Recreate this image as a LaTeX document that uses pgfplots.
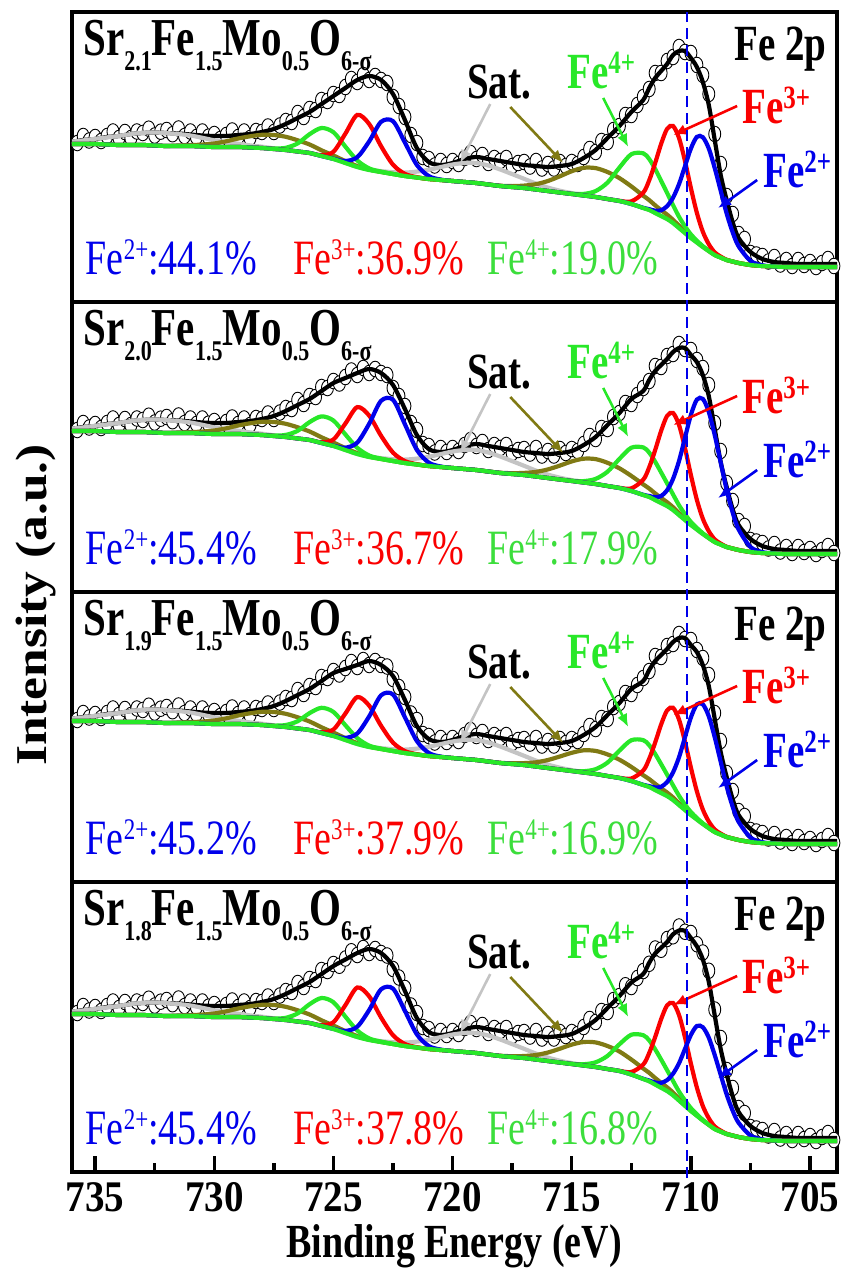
\documentclass[border=0pt]{standalone}
\usepackage{pgfplots}
\pgfplotsset{compat=1.18}
\usepackage{pgfplotstable}
\usetikzlibrary{arrows.meta}
\usepackage{fontspec}
\setmainfont{Liberation Serif}
\usepackage{graphicx}

\definecolor{cblue}{RGB}{0,0,235}
\definecolor{cred}{RGB}{250,0,0}
\definecolor{cgreen}{RGB}{40,232,40}
\definecolor{colive}{RGB}{128,122,20}
\definecolor{cgray}{RGB}{196,196,196}
\definecolor{tgreen}{RGB}{60,222,60}

\newcommand\vs[1]{\scalebox{1}[1.3]{#1}}
\newcommand\bigbf{\rmfamily\fontsize{39}{40}\selectfont\bfseries}
\newcommand\ttbf{\rmfamily\fontsize{41}{42}\selectfont\bfseries}
\newcommand\bigrm{\rmfamily\fontsize{38}{40}\selectfont}
\newcommand\sub[1]{\raisebox{-12pt}{\fontsize{22}{22}\selectfont\bfseries #1}}
\newcommand\sups[1]{\raisebox{11pt}{\fontsize{25}{25}\selectfont\bfseries #1}}
\newcommand\psup[1]{\raisebox{11pt}{\fontsize{23}{23}\selectfont #1}}

% columns: x, background, Fe2+, Fe3+, Fe4+, olive sat., grey sat., envelope
\pgfplotstableread{
x bg f2 f3 f4 ol gr env
736 156 156 156 156 156 158.3 158
735.5 156 156 156 156 156 159.6 160
735 156 156 156 156 156 161.2 161
734.5 155.5 155.5 155.5 155.5 155.5 162.6 163
734 155 155 155 155 155 164.1 164
733.5 155 155 155 155 155 165.9 166
733 155 155 155 155 155 167.2 167
732.5 154.5 154.5 154.5 154.5 154.5 167.5 167.5
732 154 154 154 154 154 166.9 167
731.5 154 154 154 154 154.5 166 166.5
731 154 154 154 154 154.9 164.5 165.5
730.5 153.5 153.5 153.5 153.5 155.4 162.2 164.5
730 153 153 153 153 156.5 159.7 164
729.5 153 153 153 153 158.7 157.9 164
729 153 153 153 153 161.5 156.3 165
728.5 152.5 152.5 152.5 152.5 163.7 154.6 166
728 152 152 152 152 165.2 153.3 168
727.5 151 151 151 151.4 165 151.7 171
727 150 150 150 152.2 163.2 150.4 176
726.5 148.5 148.5 148.5 156.6 159.7 148.5 182
726 147 147 147 165.8 155.5 147 188
725.5 144 144 144.8 172 149.7 144 196
725 141 141.2 148.2 167.8 144.5 141 204
724.5 137 139 166.3 153.4 138.9 137 212
724 133 142.8 185.1 139.5 133.9 133 220
723.5 130 158.6 176 131.6 130.4 130.4 224
723 128 178.2 153.8 128.3 128 128.9 220
722.5 126 178.8 135.3 126 126 127.8 206
722 124 157.4 126.1 124 124 127.4 180
721.5 122.5 135.1 122.8 122.5 122.5 128.4 152
721 121 123.9 121 121 121 130.2 138
720.5 120 120.4 120 120 120 132.9 135
720 119 119 119 119 119 135.5 137
719.5 118 118 118 118 118 137 141
719 117 117 117 117 117 137 143
718.5 115.5 115.5 115.5 115.5 115.5 134.5 141
718 114 114 114 114 114.3 130.5 139
717.5 113 113 113 113 113.9 125.9 137
717 112 112 112 112 114.4 121.2 135
716.5 110.5 110.5 110.5 110.5 115.8 116.4 134
716 109 109 109 109 119 112.4 133
715.5 107.5 107.5 107.5 107.5 123.7 109.3 134
715 106 106 106 106.3 128.8 106.9 136
714.5 104.5 104.5 104.5 106.1 132.2 104.9 142
714 103 103 103 108.9 131.9 103 150
713.5 101 101 101 117.4 128 101 162
713 99 99 99.2 132.4 121.9 99 174
712.5 96 96 98.6 145.8 113.6 96 188
712 92 92.2 107.3 146.7 104.3 92 200
711.75 90 90.8 119.7 141 99.9 90 212
711.5 87 89.3 136.9 131 94.7 87 222
711.25 84 89.7 156.1 119.2 89.9 84 229
711 81 93.8 171.1 107.1 85.4 81 236
710.75 77 102.3 174 94.9 80.2 77 245
710.5 72 115.8 162.1 83.3 74.3 72 249
710.25 67 133.7 139.1 73.7 68.6 67 249
710 62 151.5 111.9 65.6 63.1 62 242
709.75 57.5 163.1 87.2 59.3 58.2 57.5 233
709.5 53 162.8 68.3 53.8 53.5 53 218
709.25 49 151.5 55.8 49.4 49 49 195
709 45 131.9 47.6 45 45 45 160
708.75 42.5 109.2 43.4 42.5 42.5 42.5 125
708.5 40 86.5 40.2 40 40 40 100
708.25 38.5 67.9 38.5 38.5 38.5 38.5 78
708 37 53.8 37 37 37 37 62
707.5 35 39.1 35 35 35 35 48
707 34 34.7 34 34 34 34 41
706.5 33.5 33.5 33.5 33.5 33.5 33.5 38
706 33 33 33 33 33 33 37
705.5 33 33 33 33 33 33 36
705 33 33 33 33 33 33 36
704.5 33 33 33 33 33 33 36
704 33 33 33 33 33 33 36
703.5 33 33 33 33 33 33 36
}\tA

\pgfplotstableread{
x bg f2 f3 f4 ol gr env
736 159 159 159 159 159 161.3 161
735.5 159 159 159 159 159 162.6 163
735 159 159 159 159 159 164.2 164
734.5 158.5 158.5 158.5 158.5 158.5 165.6 166
734 158 158 158 158 158 167.1 167
733.5 158 158 158 158 158 168.9 169
733 158 158 158 158 158 170.2 170
732.5 157.5 157.5 157.5 157.5 157.5 170.5 170.5
732 157 157 157 157 157 169.9 170
731.5 157 157 157 157 157.5 169 169.5
731 157 157 157 157 157.9 167.5 168.5
730.5 156.5 156.5 156.5 156.5 158.4 165.2 167.5
730 156 156 156 156 159.5 162.7 167
729.5 156 156 156 156 161.7 160.9 167
729 156 156 156 156 164.5 159.3 168
728.5 155.5 155.5 155.5 155.5 166.7 157.6 169
728 155 155 155 155 168.2 156.3 171
727.5 154 154 154 154.4 168 154.7 174
727 153 153 153 155.1 166.2 153.4 179
726.5 151.5 151.5 151.5 159.2 162.7 151.5 185
726 150 150 150 167.9 158.5 150 191
725.5 147 147 147.7 173.6 152.7 147 199
725 144 144.2 150.5 169.5 147.5 144 207
724.5 140 142.3 166.4 155.6 141.9 140 212
724 136 147.4 182.9 142.2 136.9 136 217
723.5 133 166.2 174.4 134.5 133.4 133.4 221
723 131 189.2 154.2 131.3 131 131.9 217
722.5 129 190.2 137.4 129 129 130.8 205
722 127 165.7 128.9 127 127 130.4 181
721.5 125.5 140.1 125.8 125.5 125.5 131.4 155
721 124 127.4 124 124 124 133.2 141
720.5 123 123.5 123 123 123 135.9 138
720 122 122 122 122 122 138.5 140
719.5 121 121 121 121 121 140 144
719 120 120 120 120 120 140 146
718.5 118.5 118.5 118.5 118.5 118.5 137.5 144
718 117 117 117 117 117.3 133.5 142
717.5 116 116 116 116 116.8 128.9 140
717 115 115 115 115 117.1 124.2 138
716.5 113.5 113.5 113.5 113.5 118.1 119.4 137
716 112 112 112 112 120.6 115.4 136
715.5 110.5 110.5 110.5 110.5 124.4 112.3 137
715 109 109 109 109.3 128.6 109.9 139
714.5 107.5 107.5 107.5 108.9 131.3 107.9 145
714 106 106 106 111.1 130.9 106 153
713.5 104 104 104 118.3 127.2 104 165
713 102 102 102.2 131.1 121.7 102 177
712.5 99 99 101.6 142.3 114.1 99 191
712 95 95.2 110.3 142.6 105.6 95 199
711.75 93 94 122.7 137.4 101.5 93 210
711.5 90 92.8 139.9 128.3 96.6 90 219
711.25 87 94 159.1 117.6 92.1 87 225
711 84 99.7 174.1 106.7 87.8 84 231
710.75 80 111.1 177 95.6 82.8 80 238
710.5 75 128.9 165.1 84.8 77 75 242
710.25 70 152 142.1 75.8 71.4 70 242
710 65 175.1 114.9 68.1 65.9 65 235
709.75 60.5 190.4 90.2 62.1 61.1 60.5 228
709.5 56 191.1 71.3 56.7 56.4 56 215
709.25 52 178.1 58.8 52.3 52 52 194
709 48 154.9 50.6 48 48 48 161
708.75 45.5 127.5 46.4 45.5 45.5 45.5 128
708.5 43 100.2 43.2 43 43 43 103
708.25 41.5 77.7 41.5 41.5 41.5 41.5 81
708 40 60.7 40 40 40 40 65
707.5 38 43 38 38 38 38 51
707 37 37.9 37 37 37 37 44
706.5 36.5 36.5 36.5 36.5 36.5 36.5 41
706 36 36 36 36 36 36 40
705.5 36 36 36 36 36 36 39
705 36 36 36 36 36 36 39
704.5 36 36 36 36 36 36 39
704 36 36 36 36 36 36 39
703.5 36 36 36 36 36 36 39
}\tB

\pgfplotstableread{
x bg f2 f3 f4 ol gr env
736 159 159 159 159 159 161.3 161
735.5 159 159 159 159 159 162.6 163
735 159 159 159 159 159 164.2 164
734.5 158.5 158.5 158.5 158.5 158.5 165.6 166
734 158 158 158 158 158 167.1 167
733.5 158 158 158 158 158 168.9 169
733 158 158 158 158 158 170.2 170
732.5 157.5 157.5 157.5 157.5 157.5 170.5 170.5
732 157 157 157 157 157 169.9 170
731.5 157 157 157 157 157.5 169 169.5
731 157 157 157 157 157.9 167.5 168.5
730.5 156.5 156.5 156.5 156.5 158.4 165.2 167.5
730 156 156 156 156 159.5 162.7 167
729.5 156 156 156 156 161.7 160.9 167
729 156 156 156 156 164.5 159.3 168
728.5 155.5 155.5 155.5 155.5 166.7 157.6 169
728 155 155 155 155 168.2 156.3 171
727.5 154 154 154 154.4 168 154.7 174
727 153 153 153 155 166.2 153.4 179
726.5 151.5 151.5 151.5 158.8 162.7 151.5 185
726 150 150 150 166.9 158.5 150 191
725.5 147 147 147.7 172.2 152.7 147 199
725 144 144.2 150.5 168.1 147.5 144 207
724.5 140 142.1 166.4 154.8 141.9 140 211
724 136 146.5 182.9 141.9 136.9 136 215
723.5 133 163.6 174.4 134.4 133.4 133.4 219
723 131 184.7 154.2 131.3 131 131.9 215
722.5 129 185.5 137.4 129 129 130.8 204
722 127 162.7 128.9 127 127 130.4 180
721.5 125.5 139 125.8 125.5 125.5 131.4 154
721 124 127.1 124 124 124 133.2 141
720.5 123 123.4 123 123 123 135.9 138
720 122 122 122 122 122 138.5 140
719.5 121 121 121 121 121 140 144
719 120 120 120 120 120 140 146
718.5 118.5 118.5 118.5 118.5 118.5 137.5 144
718 117 117 117 117 117.2 133.5 142
717.5 116 116 116 116 116.7 128.9 140
717 115 115 115 115 116.9 124.2 138
716.5 113.5 113.5 113.5 113.5 117.7 119.4 137
716 112 112 112 112 120 115.4 136
715.5 110.5 110.5 110.5 110.5 123.5 112.3 137
715 109 109 109 109.2 127.2 109.9 139
714.5 107.5 107.5 107.5 108.8 129.7 107.9 145
714 106 106 106 110.8 129.1 106 153
713.5 104 104 104 117.4 125.6 104 165
713 102 102 102.2 129.4 120.3 102 177
712.5 99 99 101.5 139.8 113.1 99 191
712 95 95.2 109.5 139.9 104.8 95 199
711.75 93 93.9 121.2 134.8 100.9 93 210
711.5 90 92.5 137.4 126.1 96.2 90 219
711.25 87 93.2 155.5 115.9 91.7 87 225
711 84 98 169.6 105.4 87.5 84 231
710.75 80 107.6 172.2 94.7 82.6 80 238
710.5 75 122.7 160.6 84.3 76.8 75 242
710.25 70 142.7 138.5 75.5 71.3 70 242
710 65 162.6 112.4 68 65.9 65 235
709.75 60.5 175.6 88.7 62 61.1 60.5 228
709.5 56 175.7 70.5 56.7 56.4 56 215
709.25 52 163.7 58.5 52.3 52 52 194
709 48 142.7 50.5 48 48 48 161
708.75 45.5 118.2 46.4 45.5 45.5 45.5 128
708.5 43 93.7 43.2 43 43 43 103
708.25 41.5 73.5 41.5 41.5 41.5 41.5 81
708 40 58.3 40 40 40 40 65
707.5 38 42.5 38 38 38 38 51
707 37 37.8 37 37 37 37 44
706.5 36.5 36.5 36.5 36.5 36.5 36.5 41
706 36 36 36 36 36 36 40
705.5 36 36 36 36 36 36 39
705 36 36 36 36 36 36 39
704.5 36 36 36 36 36 36 39
704 36 36 36 36 36 36 39
703.5 36 36 36 36 36 36 39
}\tC

\pgfplotstableread{
x bg f2 f3 f4 ol gr env
736 156 156 156 156 156 158.3 158
735.5 156 156 156 156 156 159.6 160
735 156 156 156 156 156 161.2 161
734.5 155.5 155.5 155.5 155.5 155.5 162.6 163
734 155 155 155 155 155 164.1 164
733.5 155 155 155 155 155 165.9 166
733 155 155 155 155 155 167.2 167
732.5 154.5 154.5 154.5 154.5 154.5 167.5 167.5
732 154 154 154 154 154 166.9 167
731.5 154 154 154 154 154.5 166 166.5
731 154 154 154 154 154.9 164.5 165.5
730.5 153.5 153.5 153.5 153.5 155.4 162.2 164.5
730 153 153 153 153 156.5 159.7 164
729.5 153 153 153 153 158.7 157.9 164
729 153 153 153 153 161.5 156.3 165
728.5 152.5 152.5 152.5 152.5 163.7 154.6 166
728 152 152 152 152 165.2 153.3 168
727.5 151 151 151 151.4 165 151.7 171
727 150 150 150 152.2 163.2 150.4 176
726.5 148.5 148.5 148.5 156.6 159.7 148.5 182
726 147 147 147 165.8 155.5 147 188
725.5 144 144 144.8 172 149.7 144 196
725 141 141.2 147.8 167.8 144.5 141 204
724.5 137 139.1 164.8 153.4 138.9 137 210.5
724 133 143.3 182.5 139.5 133.9 133 217
723.5 130 160 173.7 131.6 130.4 130.4 221
723 128 180.7 152.5 128.3 128 128.9 217
722.5 126 181.4 134.8 126 126 127.8 204
722 124 159.1 126 124 124 127.4 179
721.5 122.5 135.7 122.8 122.5 122.5 128.4 152
721 121 124 121 121 121 130.2 138
720.5 120 120.4 120 120 120 132.9 135
720 119 119 119 119 119 135.5 137
719.5 118 118 118 118 118 137 141
719 117 117 117 117 117 137 143
718.5 115.5 115.5 115.5 115.5 115.5 134.5 141
718 114 114 114 114 114.3 130.5 139
717.5 113 113 113 113 113.8 125.9 137
717 112 112 112 112 114 121.2 135
716.5 110.5 110.5 110.5 110.5 115 116.4 134
716 109 109 109 109 117.5 112.4 133
715.5 107.5 107.5 107.5 107.5 121.3 109.3 134
715 106 106 106 106.2 125.4 106.9 136
714.5 104.5 104.5 104.5 105.8 128 104.9 142
714 103 103 103 107.7 127.6 103 150
713.5 101 101 101 114.1 124 101 162
713 99 99 99.2 125.7 118.5 99 174
712.5 95.5 95.5 98 135.3 110.5 95.5 187.5
712 91 91.2 105.5 134.8 101.5 91 196
711.75 88.75 89.5 117 129.6 97.2 88.75 207.25
711.5 85.5 87.5 132.9 120.7 92 85.5 216.5
711.25 82.25 87.1 150.8 110.5 87.3 82.25 222.25
711 79 89.9 164.6 99.9 82.7 79 228
710.75 74.75 96.3 167 89.1 77.5 74.75 235.75
710.5 69.5 106.7 155.1 78.5 71.5 69.5 239.5
710.25 64.25 121 132.8 69.7 65.7 64.25 239.25
710 59 135.1 106.4 61.9 59.9 59 232
709.75 54.25 144 82.5 55.7 54.9 54.25 223.75
709.5 49.5 142.8 64 50.1 49.9 49.5 210.5
709.25 45.25 132.4 51.8 45.6 45.25 45.25 188.25
709 41 114.9 43.5 41 41 41 154.5
708.75 38.5 95.2 39.4 38.5 38.5 38.5 121
708.5 36 75.5 36.2 36 36 36 96
708.25 34.5 59.5 34.5 34.5 34.5 34.5 74
708 33 47.3 33 33 33 33 58
707.5 31 34.5 31 31 31 31 44
707 30 30.6 30 30 30 30 37
706.5 29.5 29.5 29.5 29.5 29.5 29.5 34
706 29 29 29 29 29 29 33
705.5 29 29 29 29 29 29 32
705 29 29 29 29 29 29 32
704.5 29 29 29 29 29 29 32
704 29 29 29 29 29 29 32
703.5 29 29 29 29 29 29 32
}\tD

% measured data points, one column per panel
\pgfplotstableread{
x y1 y2 y3 y4
736 161 164 164 161
735.75 157 160 160 157
735.5 164 167 167 164
735.25 159.5 162.5 162.5 159.5
735 163 166 166 163
734.75 159 162 162 159
734.5 164 167 167 164
734.25 168.5 171.5 171.5 168.5
734 162 165 165 162
733.75 168 171 171 168
733.5 162 165 165 162
733.25 168.5 171.5 171.5 168.5
733 167 170 170 167
732.75 171.3 174.3 174.3 171.3
732.5 164.5 167.5 167.5 164.5
732.25 168.3 171.3 171.3 168.3
732 170 173 173 170
731.75 165.8 168.8 168.8 165.8
731.5 171.5 174.5 174.5 171.5
731.25 164 167 167 164
731 168.5 171.5 171.5 168.5
730.75 163 166 166 163
730.5 168.5 171.5 171.5 168.5
730.25 163.3 166.3 166.3 163.3
730 166 169 169 166
729.75 161 164 164 161
729.5 165 168 168 165
729.25 169.5 172.5 172.5 169.5
729 163 166 166 163
728.75 168.5 171.5 171.5 168.5
728.5 162 165 165 162
728.25 169 172 172 169
728 168 171 171 168
727.75 173.5 176.5 176.5 173.5
727.5 168 171 171 168
727.25 174.5 177.5 177.5 174.5
727 179 182 182 179
726.75 178 181 181 178
726.5 187 190 190 187
726.25 183 186 186 183
726 191 194 194 191
725.75 190 193 193 190
725.5 200 203 203 200
725.25 199 202 202 199
725 206 209 209 206
724.75 205 206.5 205.5 204.25
724.5 213 213 212 211.5
724.25 221 219.5 218 218.75
724 218 215 213 215
723.75 225 222 220 222
723.5 220 217 215 217
723.25 224 221 219 221
723 220 217 215 217
722.75 217 215 213.5 214.5
722.5 203 202 201 201
722.25 194 194 193 192.5
722 183 184 183 182
721.75 165 167 166.5 164.5
721.5 157 160 160 157
721.25 143 146 146 143
721 141 144 144 141
720.75 134.5 137.5 137.5 134.5
720.5 139 142 142 139
720.25 135 138 138 135
720 139 142 142 139
719.75 136 139 139 136
719.5 142 145 145 142
719.25 147 150 150 147
719 141 144 144 141
718.75 145 148 148 145
718.5 137 140 140 137
718.25 142 145 145 142
718 139 142 142 139
717.75 142 145 145 142
717.5 134 137 137 134
717.25 137 140 140 137
717 138 141 141 138
716.75 133.5 136.5 136.5 133.5
716.5 139 142 142 139
716.25 131.5 134.5 134.5 131.5
716 136 139 139 136
715.75 131.5 134.5 134.5 131.5
715.5 138 141 141 138
715.25 134 137 137 134
715 138 141 141 138
714.75 136 139 139 136
714.5 143 146 146 143
714.25 151 154 154 151
714 148 151 151 148
713.75 159 162 162 159
713.5 158 161 161 158
713.25 170 173 173 170
713 174 177 177 174
712.75 185 187 187 184.75
712.5 185 186 186 183
712.25 195 195 195 192
712 203 202 202 199
711.75 211 209 209 206.25
711.5 227 224 224 221.5
711.25 227 223 223 220.25
711 239 234 234 231
710.75 243 236 236 233.75
710.5 253 246 246 243.5
710.25 248 241 241 238.25
710 247 240 240 237
709.75 235 230 230 225.75
709.5 225 222 222 217.5
709.25 206 205 205 199.25
709 166 167 167 160.5
708.75 136 139 139 132
708.5 104 107 107 100
708.25 86 89 89 82
708 66 69 69 62
707.75 61 64 64 57
707.5 47 50 50 43
707.25 45.5 48.5 48.5 41.5
707 44 47 47 40
706.75 38.5 41.5 41.5 34.5
706.5 43 46 46 39
706.25 35.5 38.5 38.5 31.5
706 40 43 43 36
705.75 34 37 37 30
705.5 40 43 43 36
705.25 35 38 38 31
705 38 41 41 34
704.75 33 36 36 29
704.5 37 40 40 33
704.25 41 44 44 37
704 34 37 37 30
}\dA

\pgfplotsset{
  panel/.style={width=765pt,height=290pt,scale only axis,
    xmin=703.87,xmax=735.97,x dir=reverse,ymin=-2,ymax=288,
    axis line style={line width=4pt},ytick=\empty,xtick=\empty,
    clip mode=individual},
  comp/.style={smooth,no markers,line width=4.2pt},
}
\tikzset{arr/.style={-{Latex[length=13pt,width=11pt]},line width=2.6pt}}

\newcommand\drawpanel[2]{%
  \addplot[only marks,mark=*,mark size=6pt,mark options={fill=white,draw=black,line width=0.9pt,yscale=1.3}] table[x=x,y=#2]{\dA};
  \addplot[comp,black] table[x=x,y=env]{#1};
  \addplot[comp,cgray] table[x=x,y=gr]{#1};
  \addplot[comp,colive] table[x=x,y=ol]{#1};
  \addplot[comp,cgreen] table[x=x,y=f4]{#1};
  \addplot[comp,cred] table[x=x,y=f3]{#1};
  \addplot[comp,cblue] table[x=x,y=f2]{#1};
  \addplot[comp,cgreen] table[x=x,y=bg]{#1};
}
\newcommand\labels[4]{%
  \node[anchor=base west,font=\ttbf,inner sep=0pt] at (axis cs:735.5,245) {\vs{Sr\sub{#1}Fe\sub{1.5}Mo\sub{0.5}O\sub{6-σ}}};
  \node[anchor=base west,font=\bigbf,inner sep=0pt] at (axis cs:719.4,202) {\vs{Sat.}};
  \node[anchor=base west,font=\bigbf,text=cgreen,inner sep=0pt] at (axis cs:715.2,212) {\vs{Fe\sups{4+}}};
  \node[anchor=base west,font=\bigbf,text=cred,inner sep=0pt] at (axis cs:707.85,177) {\vs{Fe\sups{3+}}};
  \node[anchor=base west,font=\bigbf,text=cblue,inner sep=0pt] at (axis cs:706.97,113) {\vs{Fe\sups{2+}}};
  \draw[arr,cred] (axis cs:708.06,194) -- (axis cs:710.74,165);
  \draw[arr,cblue] (axis cs:707.22,120) -- (axis cs:708.86,92);
  \draw[arr,cgreen] (axis cs:713.68,202) -- (axis cs:712.63,153);
  \draw[arr,cgray] (axis cs:718.42,196) -- (axis cs:719.68,137);
  \draw[arr,colive] (axis cs:717.58,193) -- (axis cs:715.36,137);
  \node[anchor=base west,font=\bigrm,text=cblue,inner sep=0pt] at (axis cs:735.4,26) {\vs{Fe\psup{2+}:#2\%}};
  \node[anchor=base west,font=\bigrm,text=cred,inner sep=0pt] at (axis cs:726.7,26) {\vs{Fe\psup{3+}:#3\%}};
  \node[anchor=base west,font=\bigrm,text=tgreen,inner sep=0pt] at (axis cs:718.55,26) {\vs{Fe\psup{4+}:#4\%}};
}
\newcommand\fetwop{\node[anchor=base east,font=\bigbf,inner sep=0pt] at (axis cs:704.3,240) {\vs{Fe 2p}};}

\begin{document}
\begin{tikzpicture}[x=1pt,y=1pt]
\useasboundingbox (0,0) rectangle (844,-1269);

\begin{axis}[panel,at={(72pt,-12pt)},anchor=north west]
\drawpanel{\tA}{y1}
\labels{2.1}{44.1}{36.9}{19.0}
\fetwop
\end{axis}

\begin{axis}[panel,at={(72pt,-302pt)},anchor=north west]
\drawpanel{\tB}{y2}
\labels{2.0}{45.4}{36.7}{17.9}
\end{axis}

\begin{axis}[panel,at={(72pt,-592pt)},anchor=north west]
\drawpanel{\tC}{y3}
\labels{1.9}{45.2}{37.9}{16.9}
\fetwop
\end{axis}

\begin{axis}[panel,at={(72pt,-882pt)},anchor=north west,
  xtick={705,710,...,735},minor xtick={707.5,712.5,...,732.5},
  xtick pos=left,tick align=inside,
  major tick length=16pt,minor tick length=9pt,
  every tick/.append style={line width=3.5pt,black},
  xticklabel={\scalebox{1}[1.12]{\pgfmathprintnumber[assume math mode=true]{\tick}}},
  xticklabel style={font=\rmfamily\fontsize{39}{39}\selectfont\bfseries,inner sep=0pt,yshift=-10pt}]
\drawpanel{\tD}{y4}
\labels{1.8}{45.4}{37.8}{16.8}
\fetwop
\draw[cblue,line width=2.5pt,dash pattern=on 11pt off 6pt] (axis cs:710.17,-8) -- (axis cs:710.17,1158);
\end{axis}

\node[anchor=base,font=\rmfamily\fontsize{38}{38}\selectfont\bfseries,inner sep=0pt] at (454,-1257) {\scalebox{1}[1.25]{Binding Energy (eV)}};
\node[anchor=base,rotate=90,font=\rmfamily\fontsize{44}{44}\selectfont\bfseries,inner sep=0pt] at (46,-605) {\scalebox{1.17}[1]{Intensity (a.u.)}};
\end{tikzpicture}
\end{document}
